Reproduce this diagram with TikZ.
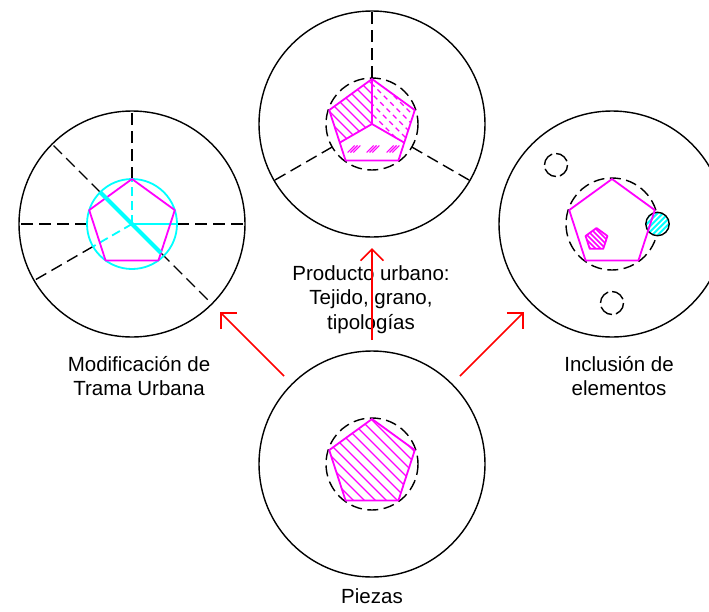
\documentclass[tikz,border=0pt]{standalone}
\usepackage{fontspec}
\setmainfont{Liberation Sans}
\usetikzlibrary{arrows.meta}
\definecolor{mag}{RGB}{255,0,255}
\definecolor{cyn}{RGB}{0,255,255}
\definecolor{rd}{RGB}{255,0,0}
\begin{document}
\begin{tikzpicture}[x=1pt,y=-1pt,
  bigc/.style={circle,draw=black,line width=1.4pt,minimum size=226pt,inner sep=0pt},
  dsh/.style={draw=black,line width=1.4pt,dash pattern=on 12pt off 6pt},
  mg/.style={draw=mag,line width=1.8pt,line join=round},
  hat/.style={draw=mag,line width=1.3pt},
  cyl/.style={draw=cyn,line width=1.8pt},
  arr/.style={draw=rd,line width=1.6pt,-{Straight Barb[length=11.5pt,width=23pt]}},
  lab/.style={font=\fontsize{20.5}{24.5}\selectfont,inner sep=0pt,anchor=base}]
\useasboundingbox (0,0) rectangle (709,611);

% ---------- big circles ----------
\node[bigc] (topc) at (372,124) {};
\node[bigc] (leftc) at (132,224) {};
\node[bigc] (rightc) at (612,224) {};
\node[bigc] (botc) at (372,464) {};

% ---------- top circle ----------
\begin{scope}[shift={(372,124)}]
  \foreach \a in {-90,150,30} \draw[dsh] (\a:46) -- (\a:113);
  \draw[dsh,dash pattern=on 11pt off 5.5pt] (0,0) circle[radius=46];
  \begin{scope}
    \clip (0,0) -- (-90:45) -- (198:45) -- (150:37.2) -- cycle;
    \foreach \d in {-100,-90,...,100} \draw[hat] (\d-60,-60) -- (\d+60,60);
  \end{scope}
  \begin{scope}
    \clip (0,0) -- (-90:45) -- (-18:45) -- (30:37.2) -- cycle;
    \foreach \d in {-100,-90,...,100} \draw[hat,dash pattern=on 5pt off 4pt] (\d-60,-60) -- (\d+60,60);
  \end{scope}
  \foreach \mx in {-18,1,21} \foreach \k in {-2.8,0,2.8}
    \draw[hat,line width=1.1pt] (\mx+\k-3.5,28.5) -- (\mx+\k+3.5,21.5);
  \draw[mg] (-90:45) -- (0,0) -- (150:37.2);
  \draw[mg] (0,0) -- (30:37.2);
  \draw[mg] (-90:45) -- (-18:45) -- (54:45) -- (126:45) -- (198:45) -- cycle;
\end{scope}

% ---------- left circle ----------
\begin{scope}[shift={(132,224)}]
  \foreach \a in {-90,180,0,-135,150} \draw[dsh] (\a:45) -- (\a:113);
  \draw[dsh] (45:41) -- (45:113);
  \draw[cyl] (0,0) circle[radius=45];
  \draw[cyl,dash pattern=on 9pt off 5pt] (0,0) -- (-90:45);
  \draw[cyl,dash pattern=on 9pt off 5pt] (0,0) -- (150:45);
  \draw[cyl] (0,0) -- (0:45);
  \draw[mg] (-90:45) -- (-18:45) -- (54:45) -- (126:45) -- (198:45) -- cycle;
  \draw[draw=cyn,line width=4.2pt] (-135:45) -- (45:41);
\end{scope}

% ---------- right circle ----------
\begin{scope}[shift={(612,224)}]
  \draw[dsh,dash pattern=on 11pt off 5.5pt] (0,0) circle[radius=46];
  \draw[dsh,dash pattern=on 14pt off 4pt] (-56,-59) circle[radius=11.5];
  \draw[dsh,dash pattern=on 14pt off 4pt] (0,79) circle[radius=11.5];
  \fill[cyn] (45.5,0) circle[radius=11.7];
  \begin{scope}
    \clip (45.5,0) circle[radius=11.7];
    \foreach \d in {-30,-24.5,...,30} \draw[white,line width=1.5pt] (45.5+\d-15,15) -- (45.5+\d+15,-15);
  \end{scope}
  \draw[black,line width=1.4pt] (45.5,0) circle[radius=11.7];
  \draw[mg] (-90:45) -- (-18:45) -- (54:45) -- (126:45) -- (198:45) -- cycle;
  \begin{scope}[shift={(-15.5,15.5)}]
    \begin{scope}
      \clip (-90:11.5) -- (-18:11.5) -- (54:11.5) -- (126:11.5) -- (198:11.5) -- cycle;
      \foreach \d in {-30,-25,...,30} \draw[hat,line width=1.7pt] (\d-15,-15) -- (\d+15,15);
    \end{scope}
    \draw[mg] (-90:11.5) -- (-18:11.5) -- (54:11.5) -- (126:11.5) -- (198:11.5) -- cycle;
  \end{scope}
\end{scope}

% ---------- bottom circle ----------
\begin{scope}[shift={(372,464)}]
  \draw[dsh,dash pattern=on 11pt off 5.5pt] (0,0) circle[radius=46];
  \begin{scope}
    \clip (-90:45) -- (-18:45) -- (54:45) -- (126:45) -- (198:45) -- cycle;
    \foreach \d in {-110,-99,...,110} \draw[hat] (\d-60,-60) -- (\d+60,60);
  \end{scope}
  \draw[mg] (-90:45) -- (-18:45) -- (54:45) -- (126:45) -- (198:45) -- cycle;
\end{scope}

% ---------- labels ----------
\node[lab] (prod) at (371,280) {\begin{tabular}[t]{@{}c@{}}Producto urbano:\\Tejido, grano,\\tipologías\end{tabular}};
\node[lab] (modif) at (139,371) {\begin{tabular}[t]{@{}c@{}}Modificación de\\Trama Urbana\end{tabular}};
\node[lab] (incl) at (619,371) {\begin{tabular}[t]{@{}c@{}}Inclusión de\\elementos\end{tabular}};
\node[lab] (piez) at (372,603) {Piezas};

% ---------- arrows ----------
\coordinate (m1) at (372,340); \coordinate (m2) at (372,248);
\coordinate (l1) at (284,376); \coordinate (l2) at (220,312);
\coordinate (r1) at (460,376); \coordinate (r2) at (524,312);
\draw[arr] (m1) -- (m2);
\draw[arr] (l1) -- (l2);
\draw[arr] (r1) -- (r2);
\end{tikzpicture}
\end{document}
